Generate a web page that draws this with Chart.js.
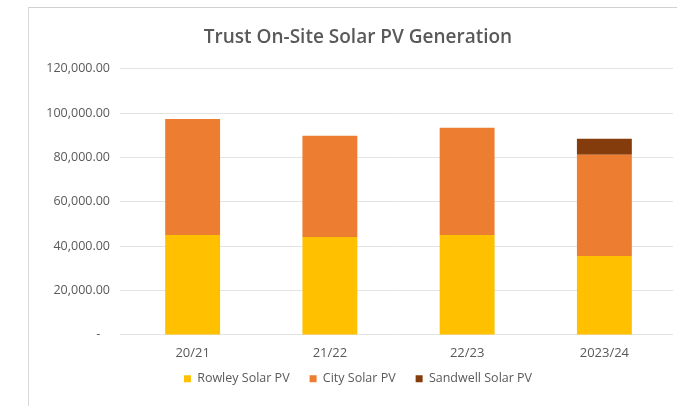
<!DOCTYPE html>
<html>
<head>
<meta charset="utf-8">
<script src="https://cdn.jsdelivr.net/npm/chart.js@4"></script>
<style>
  html, body { margin: 0; padding: 0; background: #ffffff; }
  #wrap { position: relative; width: 677px; height: 406px; overflow: hidden; background: #fff; }
  #frame { position: absolute; left: 28px; top: 7px; width: 700px; height: 450px;
           border-top: 1px solid #d0d0d0; border-left: 1px solid #d9d9d9; box-sizing: border-box; }
  canvas { position: absolute; left: 0; top: 0; }
</style>
</head>
<body>
<div id="wrap">
  <div id="frame"></div>
  <canvas id="c" width="677" height="406"></canvas>
</div>
<script>
const categories = ["20/21", "21/22", "22/23", "2023/24"];
const rowleySolar = [45100, 44200, 45000, 35600];
const citySolar = [52300, 45600, 48400, 45600];
const sandwellSolar = [0, 0, 0, 7200];
const seriesNames = ["Rowley Solar PV", "City Solar PV", "Sandwell Solar PV"];
const chartTitle = "Trust On-Site Solar PV Generation";

const FONT = "'Open Sans', 'Liberation Sans', sans-serif";

const legendShift = {
  id: 'legendShift',
  afterLayout(chart) {
    if (chart.legend) { chart.legend.top -= 20; chart.legend.bottom -= 20; }
  }
};

new Chart(document.getElementById('c'), {
  type: 'bar',
  data: {
    labels: categories,
    datasets: [
      { label: seriesNames[0], data: rowleySolar, backgroundColor: '#FFC000' },
      { label: seriesNames[1], data: citySolar, backgroundColor: '#ED7D31' },
      { label: seriesNames[2], data: sandwellSolar, backgroundColor: '#843C0C' }
    ]
  },
  plugins: [legendShift],
  options: {
    responsive: false,
    animation: false,
    devicePixelRatio: 1,
    layout: { padding: { left: 43, right: 4, top: 26, bottom: -9 } },
    datasets: { bar: { categoryPercentage: 0.4, barPercentage: 1.0 } },
    scales: {
      x: {
        stacked: true,
        grid: { display: false, drawTicks: false },
        border: { display: false },
        ticks: { color: '#595959', font: { family: FONT, size: 13 }, padding: 11 }
      },
      y: {
        stacked: true,
        min: 0, max: 120000,
        afterFit: (s) => { s.width = 81; },
        grid: { color: '#e3e3e3', drawTicks: true, tickLength: 4 },
        border: { display: false },
        ticks: {
          stepSize: 20000,
          padding: 10,
          color: '#595959',
          font: { family: FONT, size: 12.5 },
          callback: (v) => v === 0 ? '-   ' :
            v.toLocaleString('en-US', { minimumFractionDigits: 2, maximumFractionDigits: 2 })
        }
      }
    },
    plugins: {
      title: {
        display: true,
        text: chartTitle,
        color: '#595959',
        font: { family: FONT, size: 19, weight: '600' },
        padding: { top: 0, bottom: 20 }
      },
      legend: {
        position: 'bottom',
        labels: {
          color: '#595959',
          font: { family: FONT, size: 12.5 },
          boxWidth: 7, boxHeight: 7, padding: 20
        }
      },
      tooltip: { enabled: false }
    }
  }
});
</script>
</body>
</html>
